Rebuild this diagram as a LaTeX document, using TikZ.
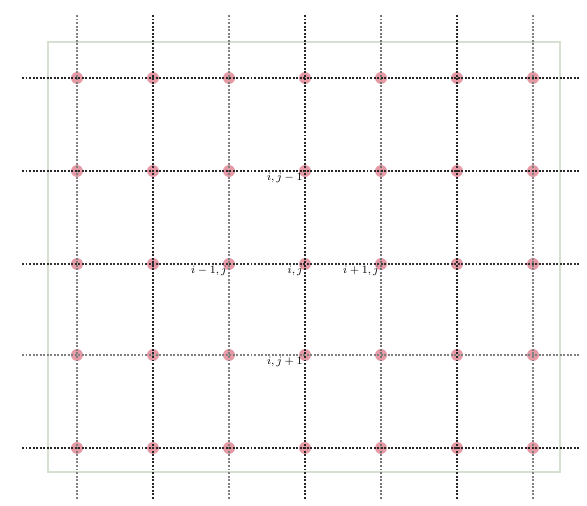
\documentclass[tikz,border=0pt]{standalone}
\usepackage{amsmath,amssymb}
\usepackage{tikz}
\usepackage{xcolor}
\definecolor{framegreen}{RGB}{214,224,210}
\definecolor{dotred}{RGB}{222,120,135}

\begin{document}
\begin{tikzpicture}[x=0.025cm,y=-0.025cm,every node/.style={font=\footnotesize},
  gridline/.style={line width=1.3pt,dash pattern=on 1.4pt off 1.1pt},
  meshpt/.style={circle,fill=dotred,opacity=0.75,inner sep=0pt,minimum size=8.5pt}]
\useasboundingbox (0,0) rectangle (587,506);
\draw[framegreen,line width=0.8pt] (48,42) rectangle (560,472);
% mesh points
\foreach \c/\x in {1/77,2/153,3/229,4/305,5/381,6/457,7/533}{
  \foreach \r/\y in {1/78,2/171,3/264,4/355,5/448}{
    \node[meshpt] (p-\c-\r) at (\x,\y) {};
  }
  \coordinate (top-\c) at (\x,15);
  \coordinate (bot-\c) at (\x,500);
}
\foreach \r/\y in {1/78,2/171,3/264,4/355,5/448}{
  \coordinate (left-\r) at (22,\y);
  \coordinate (right-\r) at (580,\y);
}
% grid lines
\foreach \c/\col in {1/gray,2/black!85,3/gray,4/black!85,5/gray!90!black,6/black!85,7/gray}
  \draw[gridline,\col] (top-\c) -- (bot-\c);
\foreach \r/\col in {1/black!85,2/black!85,3/black!80,4/gray,5/black!85}
  \draw[gridline,\col] (left-\r) -- (right-\r);
% labels
\node[anchor=north east,inner sep=1.5pt] (lab-up) at (p-4-2.center) {$i,j-1$};
\node[anchor=north east,inner sep=1.5pt] (lab-left) at (p-3-3.center) {$i-1,j$};
\node[anchor=north east,inner sep=1.5pt] (lab-mid) at (p-4-3.center) {$i,j$};
\node[anchor=north east,inner sep=1.5pt] (lab-right) at (p-5-3.center) {$i+1,j$};
\node[anchor=north east,inner sep=1.5pt] (lab-down) at (p-4-4.center) {$i,j+1$};
\end{tikzpicture}
\end{document}
